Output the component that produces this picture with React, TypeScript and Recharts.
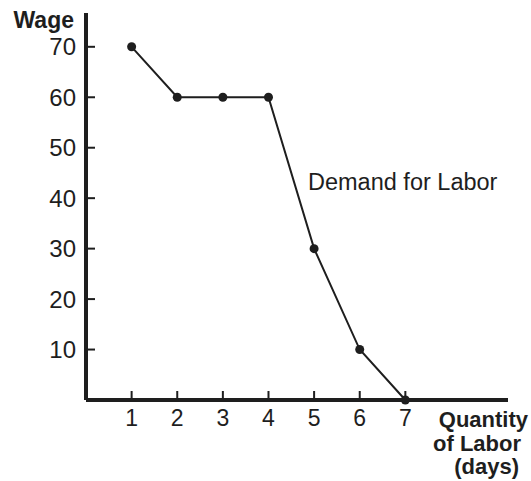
import { Line, LineChart, XAxis, YAxis } from "recharts";

const labor = [1, 2, 3, 4, 5, 6, 7];
const wage = [70, 60, 60, 60, 30, 10, 0];
const xTicks = [1, 2, 3, 4, 5, 6, 7];
const yTicks = [10, 20, 30, 40, 50, 60, 70];

const daten = labor.map((q, i) => ({ q, wage: wage[i] }));

const ink = "#1e1e1e";
const font = "'Liberation Sans', Arial, sans-serif";

function YTick({ x, y, payload }: any) {
  return (
    <g>
      <line x1={x} y1={y} x2={x + 9} y2={y} stroke={ink} strokeWidth={2} />
      <text x={x - 10} y={y + 8.5} textAnchor="end" fontSize={24} fill={ink} fontFamily={font}>
        {payload.value}
      </text>
    </g>
  );
}

function XTick({ x, y, payload }: any) {
  return (
    <g>
      <line x1={x} y1={y} x2={x} y2={y - 9} stroke={ink} strokeWidth={2} />
      <text x={x} y={y + 26} textAnchor="middle" fontSize={23} fill={ink} fontFamily={font}>
        {payload.value}
      </text>
    </g>
  );
}

export default function App() {
  return (
    <div style={{ position: "absolute", left: 0, top: 0, background: "#fff" }}>
      <LineChart width={531} height={481} data={daten} margin={{ top: 13, right: 23, left: 85, bottom: 80 }}>
        <XAxis
          dataKey="q"
          type="number"
          domain={[0, 9.25]}
          ticks={xTicks}
          tickSize={0}
          tickMargin={0}
          tickLine={false}
          axisLine={{ stroke: ink, strokeWidth: 4 }}
          tick={<XTick />}
          height={1}
        />
        <YAxis
          type="number"
          domain={[0, 76.7]}
          ticks={yTicks}
          tickSize={0}
          tickMargin={0}
          tickLine={false}
          axisLine={{ stroke: ink, strokeWidth: 4 }}
          tick={<YTick />}
          width={1}
        />
        <Line
          dataKey="wage"
          stroke={ink}
          strokeWidth={2}
          dot={{ r: 4.5, fill: ink, stroke: ink, strokeWidth: 0 }}
          isAnimationActive={false}
        />
        <text x={74} y={28} textAnchor="end" fontSize={23} fontWeight="bold" fill={ink} fontFamily={font}>
          Wage
        </text>
        <text x={308} y={190} fontSize={23.5} fill={ink} fontFamily={font}>
          Demand for Labor
        </text>
        <text textAnchor="end" fontSize={22} fontWeight="bold" fill={ink} fontFamily={font}>
          <tspan x={528} y={427}>Quantity</tspan>
          <tspan x={521} y={451}>of Labor</tspan>
          <tspan x={519} y={474}>(days)</tspan>
        </text>
      </LineChart>
    </div>
  );
}
